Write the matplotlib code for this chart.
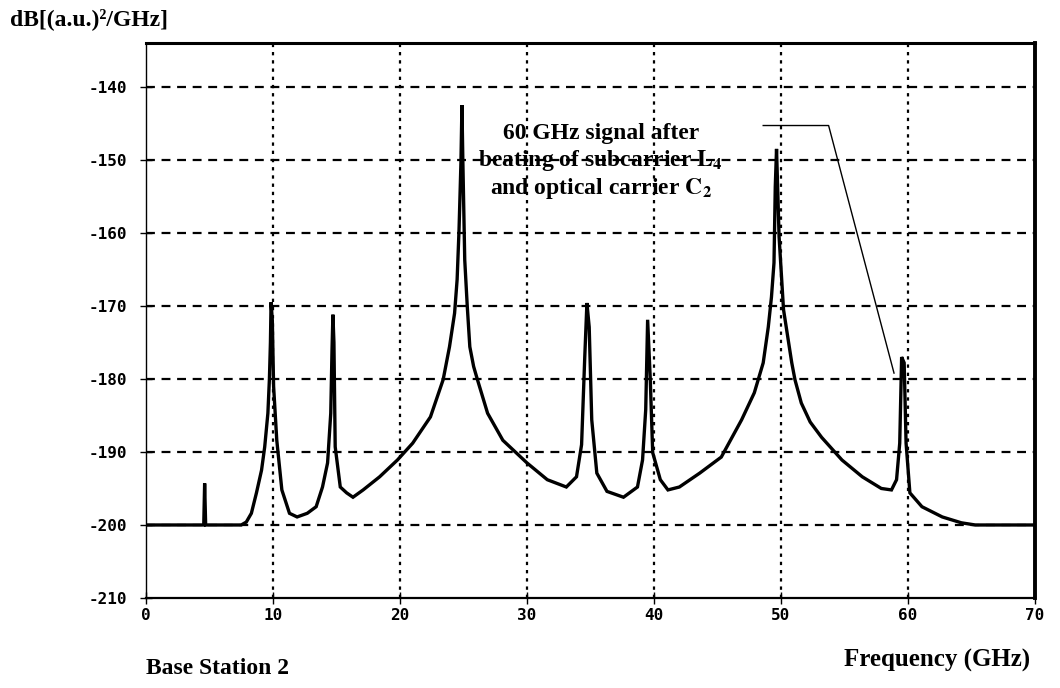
import matplotlib
matplotlib.use("Agg")
from matplotlib import pyplot as plt

plt.rcParams['axes.unicode_minus'] = False
plt.rcParams['mathtext.fontset'] = 'stix'

# spectrum: frequency (GHz) and level (dB)
freq = [0.0, 4.55, 4.62, 4.70, 7.5, 7.9, 8.3, 8.7, 9.1, 9.35, 9.6, 9.72, 9.8, 9.85,
        9.95, 10.05, 10.3, 10.7, 11.3, 11.9, 12.7, 13.4, 13.9, 14.3, 14.55, 14.65,
        14.72, 14.8, 14.9, 15.3, 15.8, 16.3, 17.1, 18.4, 19.8, 21.0, 22.4, 23.4,
        23.9, 24.3, 24.5, 24.65, 24.8, 24.88, 24.95, 25.1, 25.3, 25.5, 25.8, 26.1,
        26.9, 28.1, 30.0, 31.6, 33.1, 33.9, 34.3, 34.55, 34.72, 34.9, 35.1, 35.5,
        36.3, 37.6, 38.7, 39.1, 39.35, 39.5, 39.7, 39.9, 40.5, 41.1, 42.0, 43.6,
        45.3, 46.9, 47.9, 48.6, 49.0, 49.25, 49.45, 49.55, 49.65, 49.85, 50.2,
        50.6, 50.85, 51.1, 51.6, 52.3, 53.2, 54.8, 56.4, 57.9, 58.7, 59.1, 59.35,
        59.5, 59.7, 59.85, 60.15, 61.1, 62.7, 64.2, 65.3, 70.0]
level = [-200, -200, -194.3, -200, -200, -199.6, -198.4, -195.6, -192.5, -189.3,
         -184.7, -180.0, -175, -169.5, -172, -181, -188.4, -195.2, -198.4, -198.9,
         -198.4, -197.5, -194.8, -191.5, -184.7, -176, -171.2, -175, -189.3, -194.8,
         -195.6, -196.2, -195.2, -193.4, -191.1, -188.8, -185.2, -180.1, -175.6,
         -171.0, -166.4, -159.6, -150.4, -142.5, -150, -163.7, -170.1, -175.6,
         -178.3, -180.1, -184.7, -188.4, -191.5, -193.8, -194.8, -193.4, -189.0,
         -177, -169.6, -172.9, -185.6, -192.9, -195.4, -196.2, -194.8, -191.1,
         -184.2, -171.9, -179.7, -190.1, -193.8, -195.2, -194.8, -192.9, -190.7,
         -185.6, -181.9, -177.8, -172.9, -168.8, -164.1, -153.7, -148.5, -160.5,
         -170.5, -175.0, -177.8, -180.1, -183.3, -185.9, -188.0, -191.1, -193.4,
         -195.0, -195.2, -193.8, -188.8, -177.0, -177.8, -188.8, -195.6, -197.5,
         -198.9, -199.7, -200, -200]

# leader line of the note
lead_x = [48.6, 53.75, 58.9]
lead_y = [-145.3, -145.3, -179.2]

x_ticks = [0, 10, 20, 30, 40, 50, 60, 70]
y_ticks = [-210, -200, -190, -180, -170, -160, -150, -140]

fig = plt.figure(figsize=(10.6, 6.88), dpi=100)
ax = fig.add_axes([0.1377, 0.1308, 0.8387, 0.8067])

ax.plot(freq, level, color='black', lw=2.4, solid_joinstyle='miter')
ax.plot(lead_x, lead_y, color='black', lw=1.0)

ax.set_xlim(0, 70)
ax.set_ylim(-210, -134)
ax.set_xticks(x_ticks)
ax.set_yticks(y_ticks)

# grid: dashed horizontals, dotted verticals
for y in y_ticks[1:]:
    ax.axhline(y, color='black', lw=1.6, dashes=(4, 3), zorder=0)
for x in x_ticks[1:-1]:
    ax.axvline(x, color='black', lw=1.6, dashes=(1.5, 2.2), zorder=0)

for side, w in [('left', 1.0), ('bottom', 1.6), ('top', 2.2), ('right', 2.8)]:
    ax.spines[side].set_linewidth(w)

ax.tick_params(direction='inout', length=9, width=1.0, colors='black')
ax.tick_params(axis='y', pad=9)
ax.tick_params(axis='x', pad=3)
for lab in ax.get_xticklabels() + ax.get_yticklabels():
    lab.set_family('DejaVu Sans Mono')
    lab.set_weight('bold')
    lab.set_fontsize(11.5)

note = ('60 GHz signal after\n'
        r'beating of subcarrier $\mathbf{L_4}$' '\n'
        r'and optical carrier $\mathbf{C_2}$')
ax.text(35.8, -150.3, note, ha='center', va='center', fontsize=17,
        family='Liberation Serif', weight='bold', linespacing=1.2)

fig.text(0.009, 0.972, 'dB[(a.u.)²/GHz]', ha='left', va='center', fontsize=17,
         family='Liberation Serif', weight='bold')
fig.text(0.138, 0.029, 'Base Station 2', ha='left', va='center', fontsize=17,
         family='Liberation Serif', weight='bold')
fig.text(0.972, 0.04, 'Frequency (GHz)', ha='right', va='center', fontsize=18,
         family='Liberation Serif', weight='bold')

fig.savefig('out.png', dpi=100)
